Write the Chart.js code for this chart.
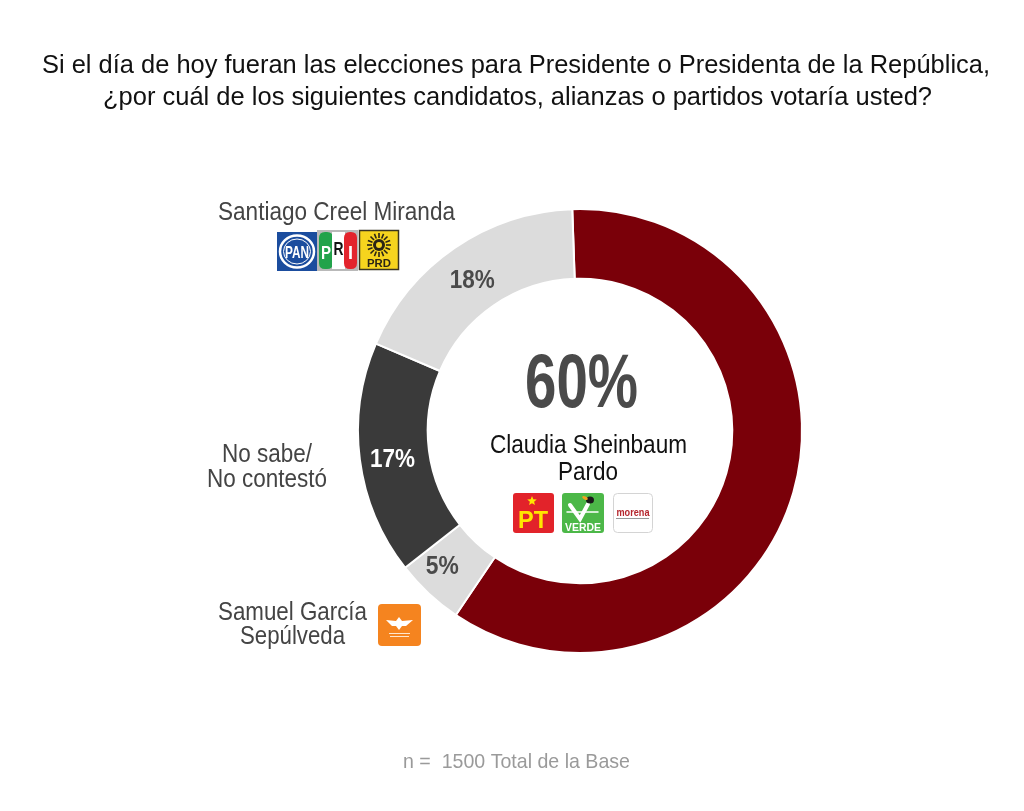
<!DOCTYPE html>
<html><head><meta charset="utf-8">
<script src="https://cdn.jsdelivr.net/npm/chart.js@4/dist/chart.umd.min.js"></script>
<style>html,body{margin:0;padding:0;background:#fff;overflow:hidden}</style>
</head><body>
<canvas id="c" width="1024" height="811"></canvas>
<script>
// ---- data ----
const categories = ['Claudia Sheinbaum Pardo', 'Samuel García Sepúlveda', 'No sabe/No contestó', 'Santiago Creel Miranda'];
const values = [60, 5, 17, 18];
const valueLabels = ['60%', '5%', '17%', '18%'];
const sliceColors = ['#7a0009', '#dcdcdc', '#3a3a3a', '#dcdcdc'];
const labelColors = ['#4a4a4a', '#4a4a4a', '#ffffff', '#4a4a4a'];
const titleLines = ['Si el día de hoy fueran las elecciones para Presidente o Presidenta de la República,',
                    '¿por cuál de los siguientes candidatos, alianzas o partidos votaría usted?'];
const footnote = 'n =  1500 Total de la Base';

const FONT = '"Liberation Sans", Arial, Helvetica, sans-serif';

function fitText(ctx, text, x0, x1, baseline, size, weight, color) {
  ctx.save();
  ctx.font = weight + ' ' + size + 'px ' + FONT;
  const w = ctx.measureText(text).width;
  const sx = (x1 - x0) / w;
  ctx.translate(x0, baseline);
  ctx.scale(sx, 1);
  ctx.fillStyle = color;
  ctx.textAlign = 'left';
  ctx.textBaseline = 'alphabetic';
  ctx.fillText(text, 0, 0);
  ctx.restore();
}
function centerText(ctx, text, cx, baseline, size, weight, color, width) {
  fitText(ctx, text, cx - width / 2, cx + width / 2, baseline, size, weight, color);
}
function rr(ctx, x, y, w, h, r) {
  ctx.beginPath();
  ctx.moveTo(x + r, y);
  ctx.lineTo(x + w - r, y); ctx.quadraticCurveTo(x + w, y, x + w, y + r);
  ctx.lineTo(x + w, y + h - r); ctx.quadraticCurveTo(x + w, y + h, x + w - r, y + h);
  ctx.lineTo(x + r, y + h); ctx.quadraticCurveTo(x, y + h, x, y + h - r);
  ctx.lineTo(x, y + r); ctx.quadraticCurveTo(x, y, x + r, y);
  ctx.closePath();
}
function star(ctx, cx, cy, R, r) {
  ctx.beginPath();
  for (let i = 0; i < 10; i++) {
    const a = -Math.PI / 2 + i * Math.PI / 5;
    const rad = i % 2 ? r : R;
    ctx.lineTo(cx + rad * Math.cos(a), cy + rad * Math.sin(a));
  }
  ctx.closePath();
}

function drawLogos(ctx) {
  // PAN
  ctx.save();
  ctx.fillStyle = '#1b4d9e'; ctx.fillRect(277, 232, 40, 39);
  ctx.strokeStyle = '#ffffff'; ctx.lineWidth = 2.5;
  ctx.beginPath(); ctx.ellipse(297, 251.5, 17, 16, 0, 0, Math.PI * 2); ctx.stroke();
  ctx.lineWidth = 1;
  ctx.beginPath(); ctx.ellipse(297, 251.5, 13.5, 12.5, 0, 0, Math.PI * 2); ctx.stroke();
  ctx.restore();
  centerText(ctx, 'PAN', 297, 258, 17, 'bold', '#ffffff', 24);
  // PRI
  ctx.save();
  ctx.fillStyle = '#b9b9b9'; ctx.fillRect(317, 230, 41, 41);
  ctx.fillStyle = '#22a34b'; rr(ctx, 319, 232, 14, 37, 6); ctx.fill();
  ctx.fillStyle = '#ffffff'; ctx.fillRect(332, 232, 13, 37);
  ctx.fillStyle = '#e3242d'; rr(ctx, 344, 232, 13, 37, 6); ctx.fill();
  ctx.restore();
  centerText(ctx, 'P', 326, 259, 18, 'bold', '#ffffff', 10);
  centerText(ctx, 'R', 338.5, 255, 18, 'bold', '#111111', 10);
  centerText(ctx, 'I', 350.5, 259, 18, 'bold', '#ffffff', 5);
  // PRD
  ctx.save();
  ctx.fillStyle = '#f6d41e'; ctx.fillRect(359, 230, 40, 40);
  ctx.strokeStyle = '#3b3520'; ctx.lineWidth = 1.5; ctx.strokeRect(359.5, 230.5, 39, 39);
  ctx.fillStyle = '#2a2416';
  ctx.beginPath(); ctx.arc(379, 245, 6, 0, Math.PI * 2); ctx.fill();
  ctx.strokeStyle = '#2a2416'; ctx.lineWidth = 1.6;
  for (let i = 0; i < 16; i++) {
    const a = i * Math.PI / 8;
    ctx.beginPath();
    ctx.moveTo(379 + 7 * Math.cos(a), 245 + 7 * Math.sin(a));
    ctx.lineTo(379 + 12 * Math.cos(a), 245 + 12 * Math.sin(a));
    ctx.stroke();
  }
  ctx.fillStyle = '#f6d41e'; ctx.beginPath(); ctx.arc(379, 245, 3, 0, Math.PI * 2); ctx.fill();
  ctx.restore();
  centerText(ctx, 'PRD', 379, 267, 11, 'bold', '#2a2416', 24);
  // PT
  ctx.save();
  ctx.fillStyle = '#e2232a'; rr(ctx, 513, 493, 41, 40, 3); ctx.fill();
  ctx.fillStyle = '#ffe600'; star(ctx, 532, 501, 5, 2.2); ctx.fill();
  ctx.restore();
  centerText(ctx, 'PT', 533, 528, 23, 'bold', '#ffe600', 30);
  // VERDE
  ctx.save();
  ctx.fillStyle = '#4cb848'; rr(ctx, 562, 493, 42, 40, 3); ctx.fill();
  ctx.strokeStyle = '#ffffff'; ctx.lineWidth = 4; ctx.lineCap = 'round';
  ctx.beginPath(); ctx.moveTo(570, 505); ctx.lineTo(580, 519); ctx.lineTo(588, 504); ctx.stroke();
  ctx.lineWidth = 1.5; ctx.beginPath(); ctx.moveTo(567, 512); ctx.lineTo(598, 512); ctx.stroke();
  ctx.fillStyle = '#1a1a1a'; ctx.beginPath(); ctx.ellipse(590, 500, 4, 3.5, 0, 0, Math.PI * 2); ctx.fill();
  ctx.fillStyle = '#f4a11d'; ctx.beginPath(); ctx.ellipse(585, 498, 3, 1.5, 0.4, 0, Math.PI * 2); ctx.fill();
  ctx.restore();
  centerText(ctx, 'VERDE', 583, 531, 11, 'bold', '#ffffff', 36);
  // morena
  ctx.save();
  ctx.fillStyle = '#ffffff'; rr(ctx, 613.5, 493.5, 39, 39, 4); ctx.fill();
  ctx.strokeStyle = '#d4d4d4'; ctx.lineWidth = 1; ctx.stroke();
  ctx.fillStyle = '#999999'; ctx.fillRect(616, 518, 33, 1);
  ctx.restore();
  centerText(ctx, 'morena', 633, 516, 11, 'bold', '#b5262d', 33);
  // Movimiento Ciudadano
  ctx.save();
  ctx.fillStyle = '#f5841f'; rr(ctx, 378, 604, 43, 42, 4); ctx.fill();
  ctx.fillStyle = '#ffffff';
  ctx.beginPath();
  ctx.moveTo(386, 620); ctx.lineTo(396, 621); ctx.lineTo(399, 617); ctx.lineTo(402, 621);
  ctx.lineTo(413, 620); ctx.lineTo(406, 626); ctx.lineTo(402, 626); ctx.lineTo(399, 630);
  ctx.lineTo(396, 626); ctx.lineTo(392, 626); ctx.closePath(); ctx.fill();
  ctx.fillStyle = '#ffe6cc'; ctx.fillRect(389, 633, 21, 1); ctx.fillRect(390, 636, 19, 1);
  ctx.restore();
}

const overlay = {
  id: 'overlay',
  afterDraw(chart) {
    const ctx = chart.ctx;
    const meta = chart.getDatasetMeta(0);
    // title
    fitText(ctx, titleLines[0], 42, 990, 73, 26, 'normal', '#111111');
    fitText(ctx, titleLines[1], 103, 932, 105, 26, 'normal', '#111111');
    // slice value labels (except the main one drawn in the centre)
    const widths = [0, 33, 45, 45];
    const shifts = [[0, 0], [-10, -3], [-2, 3], [-2, 2]];
    for (let i = 1; i < values.length; i++) {
      const p = meta.data[i].tooltipPosition();
      centerText(ctx, valueLabels[i], p.x + shifts[i][0], p.y + shifts[i][1] + 9, 25, 'bold', labelColors[i], widths[i]);
    }
    // centre
    const c = meta.data[0];
    centerText(ctx, valueLabels[0], c.x + 1.5, 407, 76, 'bold', labelColors[0], 113);
    fitText(ctx, 'Claudia Sheinbaum', 490, 687, 453, 25, 'normal', '#111111');
    fitText(ctx, 'Pardo', 558, 618, 480, 25, 'normal', '#111111');
    // side labels
    fitText(ctx, 'Santiago Creel Miranda', 218, 455, 220, 25, 'normal', '#444444');
    fitText(ctx, 'No sabe/', 222, 312, 462, 25, 'normal', '#444444');
    fitText(ctx, 'No contestó', 207, 327, 487, 25, 'normal', '#444444');
    fitText(ctx, 'Samuel García', 218, 367, 620, 25, 'normal', '#444444');
    fitText(ctx, 'Sepúlveda', 240, 345, 644, 25, 'normal', '#444444');
    // footnote
    fitText(ctx, footnote, 403, 630, 768, 21, 'normal', '#9a9a9a');
    drawLogos(ctx);
  }
};

new Chart(document.getElementById('c'), {
  type: 'doughnut',
  data: {
    labels: categories,
    datasets: [{
      data: values,
      backgroundColor: sliceColors,
      borderColor: '#ffffff',
      borderWidth: 2,
      hoverOffset: 0
    }]
  },
  options: {
    responsive: false,
    animation: false,
    rotation: -2,
    radius: 222,
    cutout: 153,
    layout: { padding: { left: 356, right: 220, top: 207, bottom: 156 } },
    plugins: { legend: { display: false }, tooltip: { enabled: false }, title: { display: false } },
    events: []
  },
  plugins: [overlay]
});
</script>
</body></html>
